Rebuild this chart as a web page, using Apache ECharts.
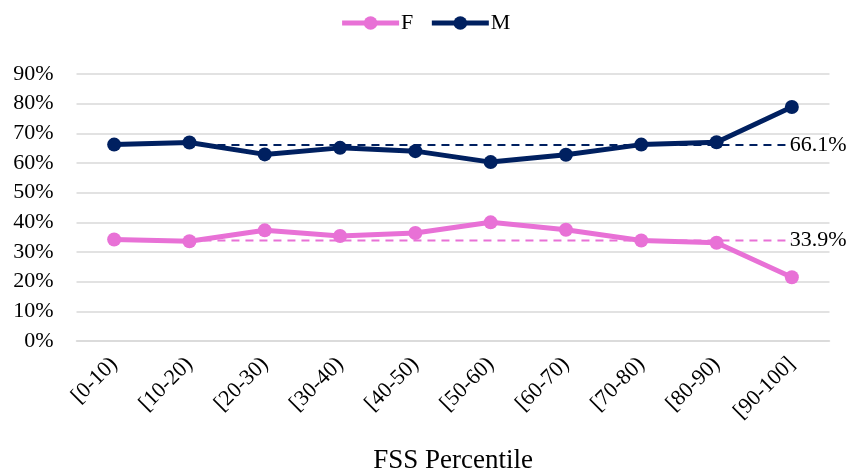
<!DOCTYPE html>
<html>
<head>
<meta charset="utf-8">
<script src="https://cdn.jsdelivr.net/npm/echarts@6/dist/echarts.min.js"></script>
<style>html,body{margin:0;padding:0;background:#fff}#c{width:850px;height:468px}</style>
</head>
<body>
<div id="c"></div>
<script>
const categories = ['[0-10)','[10-20)','[20-30)','[30-40)','[40-50)','[50-60)','[60-70)','[70-80)','[80-90)','[90-100]'];
const valuesF = [34.2, 33.6, 37.3, 35.4, 36.4, 40.0, 37.5, 33.9, 33.1, 21.5];
const valuesM = [66.2, 66.9, 62.9, 65.1, 64.0, 60.3, 62.8, 66.2, 67.0, 78.9];
const meanF = 33.9;
const meanM = 66.1;
const yTicks = [0, 90, 10]; // min, max, interval

const colorF = '#E871D6';
const colorM = '#002060';
const font = "'Liberation Serif', 'Times New Roman', serif";

function meanSeries(v){
  return categories.map((c, i) => (i === 0 ? null : v));
}

const chart = echarts.init(document.getElementById('c'), null, {renderer: 'canvas'});
chart.setOption({
  animation: false,
  backgroundColor: '#fff',
  textStyle: { fontFamily: font },
  legend: {
    data: ['F', 'M'],
    top: 7,
    left: 'center',
    itemWidth: 57,
    itemHeight: 17,
    itemGap: 16,
    lineStyle: { width: 5 },
    textStyle: { fontFamily: font, fontSize: 22, color: '#000', padding: [0,0,0,-3] }
  },
  grid: { left: 76.5, right: 20.5, top: 74, bottom: 127, containLabel: false, outerBoundsMode: 'none' },
  xAxis: {
    type: 'category',
    data: categories,
    boundaryGap: true,
    name: 'FSS Percentile',
    nameLocation: 'middle',
    nameGap: 106,
    nameTextStyle: { fontFamily: font, fontSize: 27, color: '#000' },
    axisLine: { show: true, lineStyle: { color: '#D9D9D9', width: 1.5 } },
    axisTick: { show: false },
    axisLabel: { rotate: 45, fontFamily: font, fontSize: 22, color: '#000', margin: 20, interval: 0 }
  },
  yAxis: {
    type: 'value',
    min: yTicks[0], max: yTicks[1], interval: yTicks[2],
    axisLine: { show: false },
    axisTick: { show: false },
    axisLabel: { formatter: '{value}%', fontFamily: font, fontSize: 22, color: '#000', margin: 23 },
    splitLine: { lineStyle: { color: '#D9D9D9', width: 1.5 } }
  },
  series: [
    {
      name: 'meanF', type: 'line', data: meanSeries(meanF),
      symbol: 'none', showSymbol: false,
      lineStyle: { color: colorF, width: 2, type: [8, 6] },
      endLabel: { show: true, distance: -2, formatter: p => p.value.toFixed(1) + '%', fontFamily: font, fontSize: 22, color: '#000' },
      z: 2, silent: true
    },
    {
      name: 'meanM', type: 'line', data: meanSeries(meanM),
      symbol: 'none', showSymbol: false,
      lineStyle: { color: colorM, width: 2, type: [8, 6] },
      endLabel: { show: true, distance: -2, formatter: p => p.value.toFixed(1) + '%', fontFamily: font, fontSize: 22, color: '#000' },
      z: 2, silent: true
    },
    {
      name: 'F', type: 'line', data: valuesF,
      symbol: 'circle', symbolSize: 14,
      lineStyle: { color: colorF, width: 5 },
      itemStyle: { color: colorF },
      z: 3
    },
    {
      name: 'M', type: 'line', data: valuesM,
      symbol: 'circle', symbolSize: 14,
      lineStyle: { color: colorM, width: 5 },
      itemStyle: { color: colorM },
      z: 3
    }
  ]
});
</script>
</body>
</html>
